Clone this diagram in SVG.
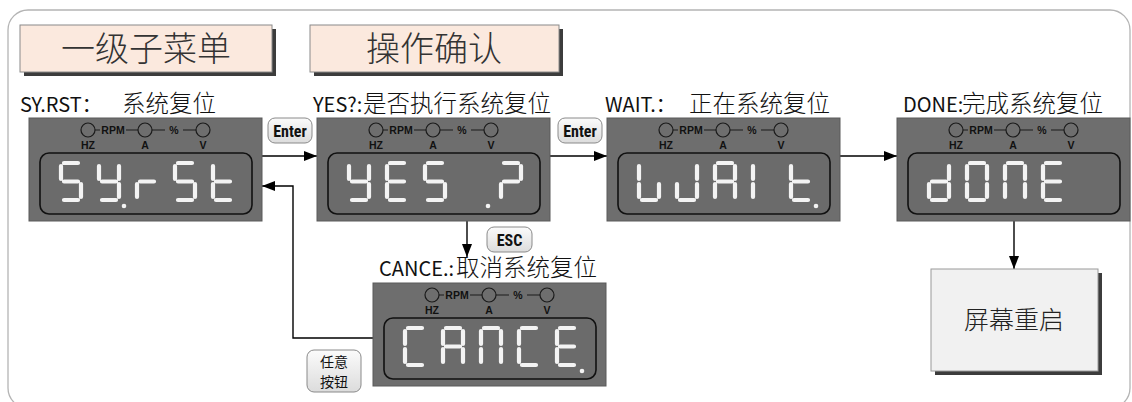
<svg xmlns="http://www.w3.org/2000/svg" xmlns:xlink="http://www.w3.org/1999/xlink" width="1132" height="402" viewBox="0 0 1132 402">
<style>
.frame{fill:none;stroke:#b4b4b4;stroke-width:1.3}
.hdr{fill:#fbe9de;stroke:#8a8a8a;stroke-width:1}
.hdrsh{fill:#3c3c3c}
.hdrt{font-family:"Noto Sans CJK SC",sans-serif;font-weight:300;font-size:34px;fill:#333;text-anchor:middle}
.lbl{font-family:"Noto Sans CJK SC",sans-serif;font-size:20px;fill:#111}
.cjk{font-weight:300;font-size:23.5px}
.outer{fill:#6e6e6e;stroke:#5a5a5a;stroke-width:1}
.lcd{fill:#6b6b6b;stroke:#111;stroke-width:1.6}
.ind{fill:none;stroke:#1a1a1a;stroke-width:1.2}
.indt{font-family:"Liberation Sans",Arial,sans-serif;font-weight:bold;font-size:10.5px;fill:#111;text-anchor:middle}
.seg{fill:none;stroke:#f3f3f3;stroke-width:4.2;stroke-linecap:round}
.dot{fill:#f3f3f3}
.btn{fill:url(#bg);stroke:#8a8a8a;stroke-width:1}
.btnt{font-family:"Liberation Sans Narrow","Roboto Condensed","Liberation Sans",sans-serif;font-weight:bold;font-size:16px;fill:#111;text-anchor:middle}
.btnc{font-family:"Noto Sans CJK SC",sans-serif;font-size:14px;fill:#111;text-anchor:middle}
.conn{fill:none;stroke:#000;stroke-width:1.4}
.box{fill:#f1f1f1;stroke:#9a9a9a;stroke-width:1}
.boxt{font-family:"Noto Sans CJK SC",sans-serif;font-weight:300;font-size:25px;fill:#222;text-anchor:middle}
</style>
<defs>
<linearGradient id="bg" x1="0" y1="0" x2="0" y2="1">
<stop offset="0" stop-color="#fbfbfb"/>
<stop offset="1" stop-color="#dcdcdc"/>
</linearGradient>
<marker id="ah" markerWidth="13" markerHeight="10" refX="13" refY="5" orient="auto" markerUnits="userSpaceOnUse">
<path d="M0,0 L13,5 L0,10 z" fill="#000"/>
</marker>
<g id="panel">
<rect class="outer" x="0" y="0" width="233" height="103"/>
<rect class="lcd" x="11" y="35" width="212" height="61" rx="9"/>
<circle class="ind" cx="59" cy="12" r="7"/>
<circle class="ind" cx="116" cy="12" r="7"/>
<circle class="ind" cx="174" cy="12" r="7"/>
<path class="ind" d="M66 12H71M97 12H109M123 12H136M154 12H167"/>
<text class="indt" x="84" y="15.8">RPM</text>
<text class="indt" x="145" y="15.8">%</text>
<text class="indt" x="59" y="30.5">HZ</text>
<text class="indt" x="116" y="30.5">A</text>
<text class="indt" x="174" y="30.5">V</text>
</g>
<path id="gS" class="seg" d="M5 2H19M2 5V18M5 20.5H19M22 23V36M5 39H19"/>
<path id="gY" class="seg" d="M2 5V18M22 5V18M5 20.5H19M22 23V36M5 39H19"/>
<path id="gr" class="seg" d="M2 23V36M5 20.5H19"/>
<path id="gt" class="seg" d="M2 5V18M2 23V36M5 20.5H19M5 39H19"/>
<path id="gE" class="seg" d="M5 2H19M2 5V18M5 20.5H19M2 23V36M5 39H19"/>
<path id="gQ" class="seg" d="M5 2H19M22 5V18M5 20.5H19M2 23V36"/>
<path id="gW1" class="seg" d="M2 5V18M2 23V36M5 39H19M22 23V36"/>
<path id="gW2" class="seg" d="M22 5V18M22 23V36M5 39H19M2 23V36"/>
<path id="gA" class="seg" d="M5 2H19M22 5V18M22 23V36M2 23V36M2 5V18M5 20.5H19"/>
<path id="gI" class="seg" d="M2 5V18M2 23V36"/>
<path id="gd" class="seg" d="M22 5V18M22 23V36M5 39H19M2 23V36M5 20.5H19"/>
<path id="gO" class="seg" d="M5 2H19M22 5V18M22 23V36M5 39H19M2 23V36M2 5V18"/>
<path id="gN" class="seg" d="M5 2H19M22 5V18M22 23V36M2 23V36M2 5V18"/>
<path id="gC" class="seg" d="M5 2H19M2 5V18M2 23V36M5 39H19"/>
</defs>

<rect class="frame" x="8" y="10" width="1122" height="398" rx="20"/>

<g id="hdr-submenu">
<rect class="hdrsh" x="24" y="29" width="252" height="47"/>
<rect class="hdr" x="20" y="25" width="252" height="47"/>
<text class="hdrt" x="146" y="61">一级子菜单</text>
</g>
<g id="hdr-confirm">
<rect class="hdrsh" x="314" y="29" width="249" height="47"/>
<rect class="hdr" x="310" y="25" width="249" height="47"/>
<text class="hdrt" x="434" y="61">操作确认</text>
</g>

<g id="connectors">
<path class="conn" d="M262 156H317" marker-end="url(#ah)"/>
<path class="conn" d="M550 156H607" marker-end="url(#ah)"/>
<path class="conn" d="M840 156H897" marker-end="url(#ah)"/>
<path class="conn" d="M467 221V257" marker-end="url(#ah)"/>
<path class="conn" d="M373 338H293V186H262" marker-end="url(#ah)"/>
<path class="conn" d="M1014 221V269" marker-end="url(#ah)"/>
</g>

<g id="node-syrst">
<text class="lbl" x="20" y="112">SY.RST：<tspan class="cjk" x="122">系统复位</tspan></text>
<use xlink:href="#panel" href="#panel" x="29" y="118"/>
<use xlink:href="#gS" href="#gS" x="59" y="161"/>
<use xlink:href="#gY" href="#gY" x="97" y="161"/>
<circle class="dot" cx="124" cy="206" r="2.3"/>
<use xlink:href="#gr" href="#gr" x="135" y="161"/>
<use xlink:href="#gS" href="#gS" x="173" y="161"/>
<use xlink:href="#gt" href="#gt" x="211" y="161"/>
</g>

<g id="node-yes">
<text class="lbl" x="313" y="112">YES?:<tspan class="cjk" x="363">是否执行系统复位</tspan></text>
<use xlink:href="#panel" href="#panel" x="317" y="118"/>
<use xlink:href="#gY" href="#gY" x="347" y="161"/>
<use xlink:href="#gE" href="#gE" x="385" y="161"/>
<use xlink:href="#gS" href="#gS" x="423" y="161"/>
<circle class="dot" cx="488" cy="206" r="2.3"/>
<use xlink:href="#gQ" href="#gQ" x="499" y="161"/>
</g>

<g id="node-wait">
<text class="lbl" x="605" y="112">WAIT.：<tspan class="cjk" x="689">正在系统复位</tspan></text>
<use xlink:href="#panel" href="#panel" x="607" y="118"/>
<use xlink:href="#gW1" href="#gW1" x="637" y="161"/>
<use xlink:href="#gW2" href="#gW2" x="675" y="161"/>
<use xlink:href="#gA" href="#gA" x="713" y="161"/>
<use xlink:href="#gI" href="#gI" x="751" y="161"/>
<use xlink:href="#gt" href="#gt" x="789" y="161"/>
<circle class="dot" cx="816" cy="206" r="2.3"/>
</g>

<g id="node-done">
<text class="lbl" x="903" y="112">DONE:<tspan class="cjk" x="962">完成系统复位</tspan></text>
<use xlink:href="#panel" href="#panel" x="897" y="118"/>
<use xlink:href="#gd" href="#gd" x="927" y="161"/>
<use xlink:href="#gO" href="#gO" x="965" y="161"/>
<use xlink:href="#gN" href="#gN" x="1003" y="161"/>
<use xlink:href="#gE" href="#gE" x="1041" y="161"/>
</g>

<g id="node-cance">
<text class="lbl" x="379" y="276">CANCE.:<tspan class="cjk" x="456">取消系统复位</tspan></text>
<use xlink:href="#panel" href="#panel" x="373" y="283"/>
<use xlink:href="#gC" href="#gC" x="403" y="326"/>
<use xlink:href="#gA" href="#gA" x="441" y="326"/>
<use xlink:href="#gN" href="#gN" x="479" y="326"/>
<use xlink:href="#gC" href="#gC" x="517" y="326"/>
<use xlink:href="#gE" href="#gE" x="555" y="326"/>
<circle class="dot" cx="582" cy="371" r="2.3"/>
</g>

<g id="node-restart">
<rect class="hdrsh" x="935" y="273" width="167" height="102"/>
<rect class="box" x="931" y="269" width="167" height="102"/>
<text class="boxt" x="1014" y="329">屏幕重启</text>
</g>

<g id="btn-enter1">
<rect class="btn" x="268" y="118" width="44" height="25" rx="7"/>
<text class="btnt" x="290" y="136.5">Enter</text>
</g>
<g id="btn-enter2">
<rect class="btn" x="558" y="118" width="44" height="25" rx="7"/>
<text class="btnt" x="580" y="136.5">Enter</text>
</g>
<g id="btn-esc">
<rect class="btn" x="487" y="227" width="45" height="25" rx="7"/>
<text class="btnt" x="509.5" y="245.5">ESC</text>
</g>
<g id="btn-any">
<rect class="btn" x="307" y="350" width="54" height="42" rx="7"/>
<text class="btnc" x="334" y="367">任意</text>
<text class="btnc" x="334" y="387">按钮</text>
</g>
</svg>
